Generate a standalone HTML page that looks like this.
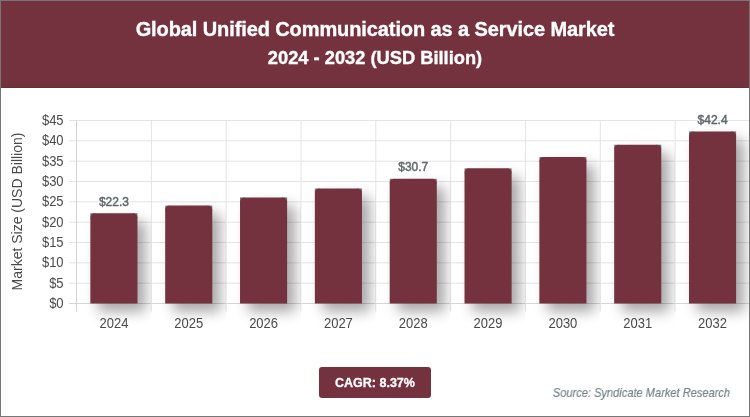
<!DOCTYPE html>
<html><head><meta charset="utf-8"><style>
html,body{margin:0;padding:0;background:#fff;}
#wrap{position:relative;width:748px;height:415px;border:1px solid #777;overflow:hidden;background:#fff;font-family:"Liberation Sans",sans-serif;}
#hdr{position:absolute;left:0;top:0;width:748px;height:86px;background:#74323f;border-bottom:1px solid #6e2a37;}
.t1{will-change:transform;-webkit-text-stroke:0.35px #fff;position:absolute;left:0;width:748px;text-align:center;color:#fff;font-weight:bold;white-space:nowrap;}
#cagr{will-change:transform;-webkit-text-stroke:0.3px #fff;position:absolute;left:318px;top:366px;width:112px;height:31px;background:#74323f;border-radius:3px;color:#fff;font-weight:bold;font-size:12.5px;text-align:center;line-height:33px;}
#src{will-change:transform;position:absolute;right:19px;top:383.8px;color:#768487;-webkit-text-stroke:0.2px #768487;font-style:italic;font-size:13px;white-space:nowrap;transform:scaleX(0.852);transform-origin:100% 50%;}
svg{position:absolute;left:-1px;top:-1px;will-change:transform;}
</style></head><body><div id="wrap">
<div id="hdr"></div>
<div class="t1" style="top:17px;font-size:20px;letter-spacing:-0.1px;">Global Unified Communication as a Service Market</div>
<div class="t1" style="top:45.5px;font-size:18.3px;">2024 - 2032 (USD Billion)</div>
<svg width="750" height="417" viewBox="0 0 750 417">
<defs><filter id="bl" color-interpolation-filters="sRGB" x="-100%" y="-50%" width="300%" height="200%"><feGaussianBlur stdDeviation="7.0"/></filter><clipPath id="c0"><rect x="76.50" y="0" width="74.83" height="417"/></clipPath><clipPath id="c1"><rect x="151.33" y="0" width="74.83" height="417"/></clipPath><clipPath id="c2"><rect x="226.16" y="0" width="74.83" height="417"/></clipPath><clipPath id="c3"><rect x="300.99" y="0" width="74.83" height="417"/></clipPath><clipPath id="c4"><rect x="375.82" y="0" width="74.83" height="417"/></clipPath><clipPath id="c5"><rect x="450.65" y="0" width="74.83" height="417"/></clipPath><clipPath id="c6"><rect x="525.48" y="0" width="74.83" height="417"/></clipPath><clipPath id="c7"><rect x="600.31" y="0" width="74.83" height="417"/></clipPath><clipPath id="c8"><rect x="675.14" y="0" width="74.83" height="417"/></clipPath></defs>
<g><line x1="69" y1="303.50" x2="750" y2="303.50" stroke="#d6d6d6" stroke-width="1"/><line x1="69" y1="283.17" x2="750" y2="283.17" stroke="#e4e4e4" stroke-width="1"/><line x1="69" y1="262.83" x2="750" y2="262.83" stroke="#e4e4e4" stroke-width="1"/><line x1="69" y1="242.50" x2="750" y2="242.50" stroke="#e4e4e4" stroke-width="1"/><line x1="69" y1="222.17" x2="750" y2="222.17" stroke="#e4e4e4" stroke-width="1"/><line x1="69" y1="201.83" x2="750" y2="201.83" stroke="#e4e4e4" stroke-width="1"/><line x1="69" y1="181.50" x2="750" y2="181.50" stroke="#e4e4e4" stroke-width="1"/><line x1="69" y1="161.17" x2="750" y2="161.17" stroke="#e4e4e4" stroke-width="1"/><line x1="69" y1="140.83" x2="750" y2="140.83" stroke="#e4e4e4" stroke-width="1"/><line x1="69" y1="120.50" x2="750" y2="120.50" stroke="#e4e4e4" stroke-width="1"/><line x1="76.50" y1="120.5" x2="76.50" y2="311.5" stroke="#d2d2d2" stroke-width="1"/><line x1="151.33" y1="120.5" x2="151.33" y2="311.5" stroke="#e4e4e4" stroke-width="1"/><line x1="226.16" y1="120.5" x2="226.16" y2="311.5" stroke="#e4e4e4" stroke-width="1"/><line x1="300.99" y1="120.5" x2="300.99" y2="311.5" stroke="#e4e4e4" stroke-width="1"/><line x1="375.82" y1="120.5" x2="375.82" y2="311.5" stroke="#e4e4e4" stroke-width="1"/><line x1="450.65" y1="120.5" x2="450.65" y2="311.5" stroke="#e4e4e4" stroke-width="1"/><line x1="525.48" y1="120.5" x2="525.48" y2="311.5" stroke="#e4e4e4" stroke-width="1"/><line x1="600.31" y1="120.5" x2="600.31" y2="311.5" stroke="#e4e4e4" stroke-width="1"/><line x1="675.14" y1="120.5" x2="675.14" y2="311.5" stroke="#e4e4e4" stroke-width="1"/><line x1="749.97" y1="120.5" x2="749.97" y2="311.5" stroke="#e4e4e4" stroke-width="1"/></g>
<g fill="#4a4a4a" font-family="Liberation Sans" font-size="13"><text transform="translate(63.6,308.10) scale(1,1.08)" text-anchor="end">$0</text><text transform="translate(63.6,287.77) scale(1,1.08)" text-anchor="end">$5</text><text transform="translate(63.6,267.43) scale(1,1.08)" text-anchor="end">$10</text><text transform="translate(63.6,247.10) scale(1,1.08)" text-anchor="end">$15</text><text transform="translate(63.6,226.77) scale(1,1.08)" text-anchor="end">$20</text><text transform="translate(63.6,206.43) scale(1,1.08)" text-anchor="end">$25</text><text transform="translate(63.6,186.10) scale(1,1.08)" text-anchor="end">$30</text><text transform="translate(63.6,165.77) scale(1,1.08)" text-anchor="end">$35</text><text transform="translate(63.6,145.43) scale(1,1.08)" text-anchor="end">$40</text><text transform="translate(63.6,125.10) scale(1,1.08)" text-anchor="end">$45</text></g>
<text transform="translate(22,211.5) rotate(-90)" text-anchor="middle" font-family="Liberation Sans" font-size="14" fill="#4a4a4a">Market Size (USD Billion)</text>
<g fill="#000" opacity="0.35"><g clip-path="url(#c0)"><path transform="translate(8.0,8.0)" filter="url(#bl)" d="M90.36,303.5 L90.36,218.21 Q90.36,213.21 95.36,213.21 L132.47,213.21 Q137.47,213.21 137.47,218.21 L137.47,303.5 Z"/></g><g clip-path="url(#c1)"><path transform="translate(8.0,8.0)" filter="url(#bl)" d="M165.19,303.5 L165.19,210.62 Q165.19,205.62 170.19,205.62 L207.29,205.62 Q212.29,205.62 212.29,210.62 L212.29,303.5 Z"/></g><g clip-path="url(#c2)"><path transform="translate(8.0,8.0)" filter="url(#bl)" d="M240.02,303.5 L240.02,202.40 Q240.02,197.40 245.02,197.40 L282.12,197.40 Q287.12,197.40 287.12,202.40 L287.12,303.5 Z"/></g><g clip-path="url(#c3)"><path transform="translate(8.0,8.0)" filter="url(#bl)" d="M314.85,303.5 L314.85,193.48 Q314.85,188.48 319.85,188.48 L356.95,188.48 Q361.95,188.48 361.95,193.48 L361.95,303.5 Z"/></g><g clip-path="url(#c4)"><path transform="translate(8.0,8.0)" filter="url(#bl)" d="M389.69,303.5 L389.69,183.82 Q389.69,178.82 394.69,178.82 L431.79,178.82 Q436.79,178.82 436.79,183.82 L436.79,303.5 Z"/></g><g clip-path="url(#c5)"><path transform="translate(8.0,8.0)" filter="url(#bl)" d="M464.51,303.5 L464.51,173.35 Q464.51,168.35 469.51,168.35 L506.62,168.35 Q511.62,168.35 511.62,173.35 L511.62,303.5 Z"/></g><g clip-path="url(#c6)"><path transform="translate(8.0,8.0)" filter="url(#bl)" d="M539.35,303.5 L539.35,162.01 Q539.35,157.01 544.35,157.01 L581.45,157.01 Q586.45,157.01 586.45,162.01 L586.45,303.5 Z"/></g><g clip-path="url(#c7)"><path transform="translate(8.0,8.0)" filter="url(#bl)" d="M614.18,303.5 L614.18,149.71 Q614.18,144.71 619.18,144.71 L656.28,144.71 Q661.28,144.71 661.28,149.71 L661.28,303.5 Z"/></g><g clip-path="url(#c8)"><path transform="translate(8.0,8.0)" filter="url(#bl)" d="M689.00,303.5 L689.00,136.39 Q689.00,131.39 694.00,131.39 L731.11,131.39 Q736.11,131.39 736.11,136.39 L736.11,303.5 Z"/></g></g><g fill="#6f797a"><rect x="90.36" y="213.21" width="5" height="5"/><rect x="132.47" y="213.21" width="5" height="5"/><rect x="165.19" y="205.62" width="5" height="5"/><rect x="207.29" y="205.62" width="5" height="5"/><rect x="240.02" y="197.40" width="5" height="5"/><rect x="282.12" y="197.40" width="5" height="5"/><rect x="314.85" y="188.48" width="5" height="5"/><rect x="356.95" y="188.48" width="5" height="5"/><rect x="389.69" y="178.82" width="5" height="5"/><rect x="431.79" y="178.82" width="5" height="5"/><rect x="464.51" y="168.35" width="5" height="5"/><rect x="506.62" y="168.35" width="5" height="5"/><rect x="539.35" y="157.01" width="5" height="5"/><rect x="581.45" y="157.01" width="5" height="5"/><rect x="614.18" y="144.71" width="5" height="5"/><rect x="656.28" y="144.71" width="5" height="5"/><rect x="689.00" y="131.39" width="5" height="5"/><rect x="731.11" y="131.39" width="5" height="5"/></g><g fill="#74323f"><path d="M90.36,303.5 L90.36,218.21 Q90.36,213.21 95.36,213.21 L132.47,213.21 Q137.47,213.21 137.47,218.21 L137.47,303.5 Z"/><path d="M165.19,303.5 L165.19,210.62 Q165.19,205.62 170.19,205.62 L207.29,205.62 Q212.29,205.62 212.29,210.62 L212.29,303.5 Z"/><path d="M240.02,303.5 L240.02,202.40 Q240.02,197.40 245.02,197.40 L282.12,197.40 Q287.12,197.40 287.12,202.40 L287.12,303.5 Z"/><path d="M314.85,303.5 L314.85,193.48 Q314.85,188.48 319.85,188.48 L356.95,188.48 Q361.95,188.48 361.95,193.48 L361.95,303.5 Z"/><path d="M389.69,303.5 L389.69,183.82 Q389.69,178.82 394.69,178.82 L431.79,178.82 Q436.79,178.82 436.79,183.82 L436.79,303.5 Z"/><path d="M464.51,303.5 L464.51,173.35 Q464.51,168.35 469.51,168.35 L506.62,168.35 Q511.62,168.35 511.62,173.35 L511.62,303.5 Z"/><path d="M539.35,303.5 L539.35,162.01 Q539.35,157.01 544.35,157.01 L581.45,157.01 Q586.45,157.01 586.45,162.01 L586.45,303.5 Z"/><path d="M614.18,303.5 L614.18,149.71 Q614.18,144.71 619.18,144.71 L656.28,144.71 Q661.28,144.71 661.28,149.71 L661.28,303.5 Z"/><path d="M689.00,303.5 L689.00,136.39 Q689.00,131.39 694.00,131.39 L731.11,131.39 Q736.11,131.39 736.11,136.39 L736.11,303.5 Z"/></g>
<g fill="#4a4a4a" font-family="Liberation Sans" font-size="13" text-anchor="middle"><text transform="translate(113.91,327.9) scale(1,1.06)">2024</text><text transform="translate(188.75,327.9) scale(1,1.06)">2025</text><text transform="translate(263.57,327.9) scale(1,1.06)">2026</text><text transform="translate(338.40,327.9) scale(1,1.06)">2027</text><text transform="translate(413.24,327.9) scale(1,1.06)">2028</text><text transform="translate(488.06,327.9) scale(1,1.06)">2029</text><text transform="translate(562.89,327.9) scale(1,1.06)">2030</text><text transform="translate(637.73,327.9) scale(1,1.06)">2031</text><text transform="translate(712.55,327.9) scale(1,1.06)">2032</text></g>
<g fill="#5f6769" stroke="#5f6769" stroke-width="0.45" font-family="Liberation Sans" font-size="12" text-anchor="middle"><text x="113.91" y="205.7">$22.3</text><text x="413.24" y="171.3">$30.7</text><text x="712.55" y="123.9">$42.4</text></g>
</svg>
<div id="cagr">CAGR: 8.37%</div>
<div id="src">Source: Syndicate Market Research</div>
</div></body></html>
